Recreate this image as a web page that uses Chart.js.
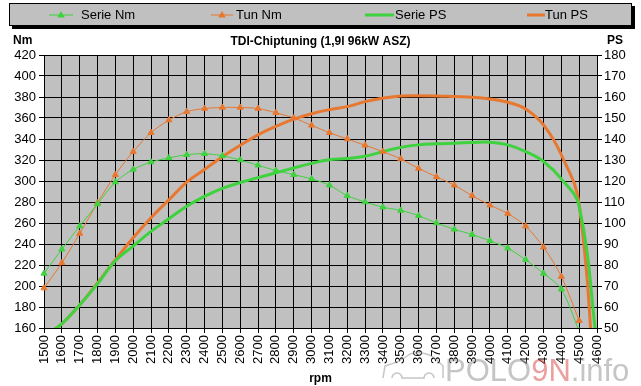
<!DOCTYPE html>
<html>
<head>
<meta charset="utf-8">
<script src="https://cdn.jsdelivr.net/npm/chart.js@4.4.1/dist/chart.umd.min.js"></script>
<style>
  body { margin: 0; background: #fff; }
  #wrap { width: 641px; height: 386px; }
</style>
</head>
<body>
<div id="wrap"><canvas id="tdi_chart" width="641" height="386"></canvas></div>
<script>
/************ 데이터 ************/
const rpm = ['1500', '1600', '1700', '1800', '1900', '2000', '2100', '2200', '2300', '2400',
  '2500', '2600', '2700', '2800', '2900', '3000', '3100', '3200', '3300', '3400',
  '3500', '3600', '3700', '3800', '3900', '4000', '4100', '4200', '4300', '4400',
  '4500', '4600'];

const serie_nm = [212, 235, 257, 278, 299, 311, 318, 322, 325, 326,
  324, 320, 315, 310, 306, 302, 296, 286, 280, 275,
  272, 267, 260, 254, 249, 243, 236, 225, 212, 197,
  157, null];

const tun_nm = [198, 222, 250, 279, 306, 328, 346, 358, 366, 369,
  370, 370, 369, 365, 360, 353, 346, 340, 334, 328,
  321, 312, 304, 296, 286, 277, 269, 257, 237, 209,
  167, null];

const serie_ps = [46, 52, 61, 71, 82, 89, 96, 102, 108, 112.7,
  116.5, 119.3, 121.6, 123.9, 126.2, 128.4, 130.1, 130.7, 131.8, 134,
  136, 137.2, 137.7, 138, 138.3, 138.5, 137.2, 134, 129.3, 121,
  108, 42];

const tun_ps = [46, 52, 61, 71.5, 82.5, 93, 102.5, 111, 119.5, 125.5,
  131.5, 137, 142, 146, 149.5, 152, 154, 155.4, 157.8, 159.4,
  160.5, 160.6, 160.5, 160.2, 159.9, 159.1, 157.5, 154.3, 146.7, 132.5,
  109, 3];

const nm_ticks = { min: 160, max: 420, step: 20 };
const ps_ticks = { min: 50, max: 180, step: 10 };

const GREEN = '#3fd23f';
const ORANGE = '#e8772f';

/************ 배경 / 범례 / 라벨 플러그인 ************/
const legend_items = [
  { text: 'Serie Nm', color: GREEN, x1: 49, x2: 73, tx: 81, width: 1, marker: true },
  { text: 'Tun Nm', color: ORANGE, x1: 211, x2: 233, tx: 236, width: 1, marker: true },
  { text: 'Serie PS', color: GREEN, x1: 365, x2: 394, tx: 395, width: 3, marker: false },
  { text: 'Tun PS', color: ORANGE, x1: 527, x2: 545, tx: 545, width: 3, marker: false }
];

function triangle(ctx, x, y, r) {
  ctx.beginPath();
  ctx.moveTo(x, y - r);
  ctx.lineTo(x + r * 0.95, y + r * 0.6);
  ctx.lineTo(x - r * 0.95, y + r * 0.6);
  ctx.closePath();
  ctx.fill();
}

const decor = {
  id: 'decor',
  beforeDraw(chart) {
    const ctx = chart.ctx;
    const a = chart.chartArea;
    ctx.save();
    ctx.fillStyle = '#ffffff';
    ctx.fillRect(0, 0, chart.width, chart.height);
    ctx.fillStyle = '#c0c0c0';
    ctx.fillRect(a.left, a.top, a.right - a.left, a.bottom - a.top);
    ctx.restore();
  },
  afterDraw(chart) {
    const ctx = chart.ctx;
    ctx.save();
    // 범례 상자
    ctx.fillStyle = '#000';
    ctx.fillRect(12, 6, 623, 23);
    ctx.fillStyle = '#c0c0c0';
    ctx.fillRect(9, 3, 623, 23);
    ctx.strokeStyle = '#000';
    ctx.lineWidth = 1;
    ctx.strokeRect(9.5, 3.5, 622, 22);
    ctx.font = '13px "Liberation Sans", Arial, sans-serif';
    ctx.textBaseline = 'middle';
    legend_items.forEach(function (it) {
      ctx.strokeStyle = it.color;
      ctx.lineWidth = it.width;
      ctx.beginPath();
      ctx.moveTo(it.x1, 15);
      ctx.lineTo(it.x2, 15);
      ctx.stroke();
      if (it.marker) {
        ctx.fillStyle = it.color;
        triangle(ctx, (it.x1 + it.x2) / 2, 15, 4);
      }
      ctx.fillStyle = '#000';
      ctx.fillText(it.text, it.tx, 15);
    });
    // 축 단위
    ctx.font = 'bold 12px "Liberation Sans", Arial, sans-serif';
    ctx.fillStyle = '#000';
    ctx.fillText('Nm', 13, 41);
    ctx.fillText('PS', 607, 41);
    // 워터마크
    ctx.globalAlpha = 0.5;
    ctx.strokeStyle = '#8c8c8c';
    ctx.lineWidth = 1.5;
    ctx.beginPath();
    ctx.moveTo(383, 378);
    ctx.lineTo(385, 366);
    ctx.quadraticCurveTo(400, 362, 410, 354);
    ctx.quadraticCurveTo(425, 350, 437, 360);
    ctx.lineTo(443, 366);
    ctx.lineTo(443, 378);
    ctx.stroke();
    ctx.beginPath();
    ctx.arc(397, 378, 5, Math.PI, 0);
    ctx.arc(429, 378, 5, Math.PI, 0);
    ctx.stroke();
    ctx.font = '31px "Liberation Sans", Arial, sans-serif';
    ctx.textBaseline = 'alphabetic';
    let x = 445;
    ctx.fillStyle = '#8c8c8c';
    ctx.fillText('POLO', x, 381);
    x += ctx.measureText('POLO').width;
    ctx.fillStyle = '#d84040';
    ctx.fillText('9N', x, 381);
    x += ctx.measureText('9N').width;
    ctx.fillStyle = '#8c8c8c';
    ctx.fillText('.info', x, 381);
    ctx.restore();
  }
};

/************ 차트 ************/
Chart.defaults.font.family = '"Liberation Sans", Arial, sans-serif';
Chart.defaults.font.size = 13;
Chart.defaults.color = '#000';

const ctx = document.getElementById('tdi_chart');

const data = {
  labels: rpm,
  datasets: [{
    label: 'Serie Nm',
    data: serie_nm,
    yAxisID: 'y',
    borderColor: GREEN,
    backgroundColor: GREEN,
    borderWidth: 1,
    pointStyle: 'triangle',
    pointRadius: 3.5,
    tension: 0.3
  }, {
    label: 'Tun Nm',
    data: tun_nm,
    yAxisID: 'y',
    borderColor: ORANGE,
    backgroundColor: ORANGE,
    borderWidth: 1,
    pointStyle: 'triangle',
    pointRadius: 3.5,
    tension: 0.3
  }, {
    label: 'Serie PS',
    data: serie_ps,
    yAxisID: 'y2',
    borderColor: GREEN,
    borderWidth: 3,
    pointRadius: 0,
    tension: 0.4
  }, {
    label: 'Tun PS',
    data: tun_ps,
    yAxisID: 'y2',
    borderColor: ORANGE,
    borderWidth: 3,
    pointRadius: 0,
    tension: 0.4
  }]
};

const config = {
  type: 'line',
  data: data,
  options: {
    responsive: false,
    animation: false,
    layout: { padding: { top: 30, left: 0, right: 0, bottom: 0 } },
    scales: {
      x: {
        grid: { color: '#000', tickLength: 5, tickColor: '#000' },
        border: { color: '#000' },
        ticks: { autoSkip: false, maxRotation: 90, minRotation: 90, padding: 2 },
        title: { display: true, text: 'rpm', font: { weight: 'bold', size: 12 }, padding: { top: 1, bottom: 0 } },
        afterFit(scale) { scale.height = 58; }
      },
      y: {
        position: 'left',
        min: nm_ticks.min,
        max: nm_ticks.max,
        grid: { color: '#000', tickLength: 5, tickColor: '#000' },
        border: { color: '#000' },
        ticks: { stepSize: nm_ticks.step, padding: 3 },
        afterFit(scale) { scale.width = 44; }
      },
      y2: {
        position: 'right',
        min: ps_ticks.min,
        max: ps_ticks.max,
        grid: { drawOnChartArea: false, tickLength: 5, tickColor: '#000' },
        border: { color: '#000' },
        ticks: { stepSize: ps_ticks.step, padding: 2 },
        afterFit(scale) { scale.width = 44; }
      }
    },
    plugins: {
      legend: { display: false },
      tooltip: { enabled: false },
      title: {
        display: true,
        text: 'TDI-Chiptuning (1,9l 96kW ASZ)',
        font: { weight: 'bold', size: 12 },
        padding: { top: 4, bottom: 6.6 }
      }
    }
  },
  plugins: [decor]
};

new Chart(ctx, config);
</script>
</body>
</html>
